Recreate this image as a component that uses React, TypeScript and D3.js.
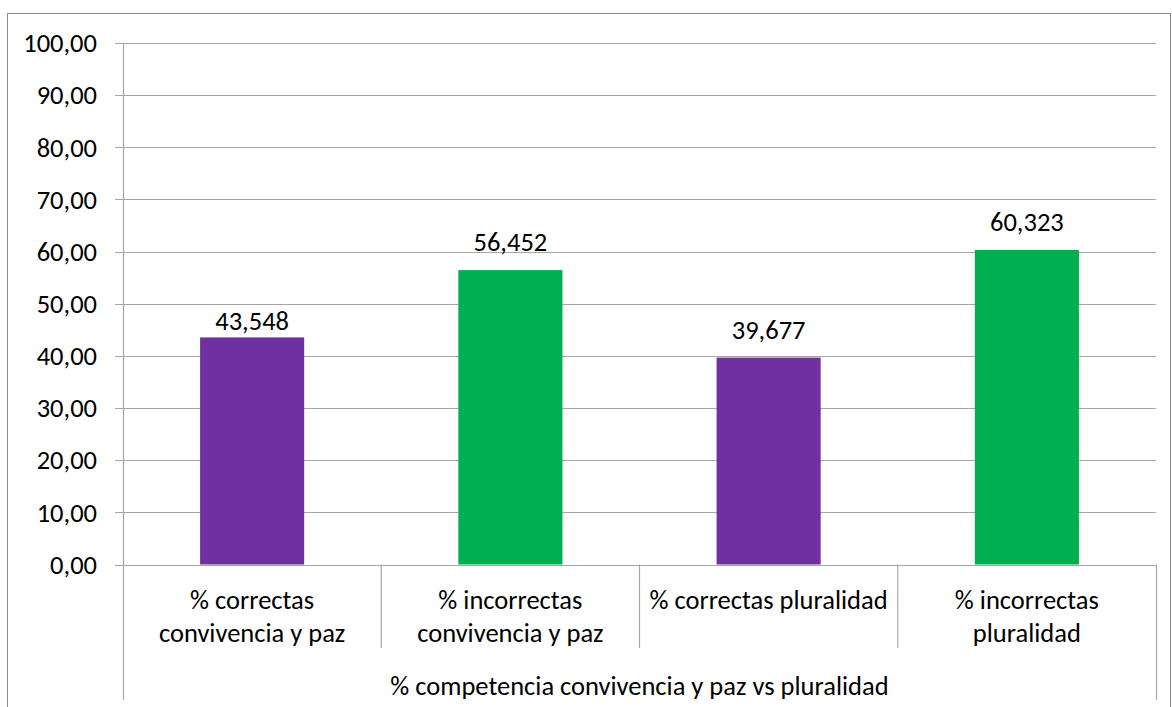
import React from "react";
import * as d3 from "d3";

const categories = [
  ["% correctas", "convivencia y paz"],
  ["% incorrectas", "convivencia y paz"],
  ["% correctas pluralidad"],
  ["% incorrectas", "pluralidad"],
];
const values = [43.548, 56.452, 39.677, 60.323];
const colors = ["#7030A0", "#00B050", "#7030A0", "#00B050"];
const yTicks = [0, 10, 20, 30, 40, 50, 60, 70, 80, 90, 100];
const groupLabel = "% competencia convivencia y paz vs pluralidad";

const W = 1172, H = 707;
const left = 123, right = 1156, top = 43, bottom = 564.5;
const font = "Carlito, Calibri, Lato, 'Open Sans', sans-serif";
const fs = 26.5;
const labelGap = [17, 28, 28, 28];

export default function App() {
  const x = d3.scaleBand<number>().domain(d3.range(values.length)).range([left, right]).paddingInner(0).paddingOuter(0);
  const y = d3.scaleLinear().domain([0, 100]).range([bottom, top]);
  const bw = x.bandwidth() * 0.403;
  const fmtTick = (v: number) => v.toFixed(2).replace(".", ",");
  const fmtVal = (v: number) => v.toFixed(3).replace(".", ",");
  return (
    <svg width={W} height={H} style={{ position: "absolute", left: 0, top: 0 }} fontFamily={font}>
      <rect x={0} y={0} width={W} height={H} fill="#fff" />
      <rect x={7.5} y={13.5} width={1163} height={720} fill="none" stroke="#8c8c8c" strokeWidth={1} />
      {yTicks.map((t) => (
        <g key={t}>
          <line x1={115} x2={right} y1={Math.round(y(t)) + 0.5} y2={Math.round(y(t)) + 0.5} stroke="#a6a6a6" strokeWidth={1.2} />
          <text x={97} y={y(t)} dy="0.35em" textAnchor="end" fontSize={fs} fill="#000">{fmtTick(t)}</text>
        </g>
      ))}
      <line x1={left + 0.5} x2={left + 0.5} y1={top} y2={700} stroke="#a6a6a6" strokeWidth={1.2} />
      <line x1={right + 0.5} x2={right + 0.5} y1={bottom} y2={700} stroke="#a6a6a6" strokeWidth={1.2} />
      {values.map((_, i) => i > 0 ? (
        <line key={"b" + i} x1={x(i)!} x2={x(i)!} y1={bottom} y2={648} stroke="#a6a6a6" strokeWidth={1.2} />
      ) : null)}
      {values.map((v, i) => {
        const cx = x(i)! + x.bandwidth() / 2;
        return (
          <g key={i}>
            <rect x={cx - bw / 2} y={y(v)} width={bw} height={bottom - y(v)} fill={colors[i]} />
            <text x={cx} y={y(v) - labelGap[i]} dy="0.35em" textAnchor="middle" fontSize={fs} fill="#000">{fmtVal(v)}</text>
            {categories[i].map((ln, j) => (
              <text key={j} x={cx} y={600 + j * 33} dy="0.35em" textAnchor="middle" fontSize={fs} fill="#000">{ln}</text>
            ))}
          </g>
        );
      })}
      <text x={(left + right) / 2} y={686} dy="0.35em" textAnchor="middle" fontSize={fs} fill="#000">{groupLabel}</text>
    </svg>
  );
}
